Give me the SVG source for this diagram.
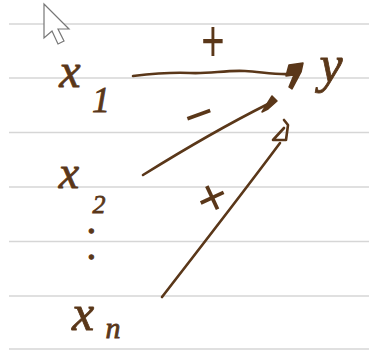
<svg xmlns="http://www.w3.org/2000/svg" width="369" height="350" viewBox="0 0 369 350">
<style>
.rule{stroke:#d6d6d6;stroke-width:1.5}
.ink{fill:#5a3719;stroke:#5a3719;stroke-width:0.8;font-family:"Liberation Serif","DejaVu Serif",serif;font-style:italic;text-anchor:middle}
.sign{fill:#5a3719;font-family:"Liberation Sans","DejaVu Sans",sans-serif;text-anchor:middle}
.wire{fill:none;stroke:#5a3719;stroke-width:2.6;stroke-linecap:round;stroke-linejoin:round}
.head{fill:#5a3719;stroke:#5a3719;stroke-width:1.5;stroke-linejoin:round}
</style>
<rect width="369" height="350" fill="#ffffff"/>
<g id="paper">
<line class="rule" x1="9" y1="24" x2="369" y2="24"/>
<line class="rule" x1="9" y1="78" x2="369" y2="78"/>
<line class="rule" x1="9" y1="132.5" x2="369" y2="132.5"/>
<line class="rule" x1="9" y1="187" x2="369" y2="187"/>
<line class="rule" x1="9" y1="241.5" x2="369" y2="241.5"/>
<line class="rule" x1="9" y1="296" x2="369" y2="296"/>
<line class="rule" x1="9" y1="349" x2="369" y2="349"/>
</g>
<g id="cursor">
<path d="M44,4 L44,38 L52,31 L58,44 L64,41 L58,29 L69,29 Z" fill="#ffffff" stroke="#777" stroke-width="1.2" stroke-linejoin="miter"/>
</g>
<g id="connectors">
<path class="wire" d="M133,76 C150,74 170,72 190,73 C210,74 225,70 245,71 C262,72 275,75 292,74"/>
<path class="head" d="M289,65 L303,63 L301,72 L292,89 L289,87 L294,75 L286,76 Z"/>
<path class="wire" d="M143,175 C180,152 220,128 268,104"/>
<path class="head" d="M262,112 L272,96 L277,101 L268,109 Z"/>
<path class="wire" d="M162,297 C200,248 245,190 280,143"/>
<path class="wire" d="M284,120 L288,125 L286,140 L273,140 L284,128"/>
</g>
<g id="labels">
<text class="sign" x="213" y="41" font-size="40" transform="scale(1,1.5)">+</text>
<text class="sign" x="200" y="131" font-size="50" transform="rotate(-20 200 118)">−</text>
<text class="sign" x="212" y="215" font-size="52" transform="rotate(-25 212 197)">+</text>
</g>
<g id="x1">
<text class="ink" x="70" y="87" font-size="48">x</text>
<text class="ink" x="101" y="112" font-size="36">1</text>
</g>
<g id="y">
<text class="ink" x="331" y="82" font-size="52">y</text>
</g>
<g id="x2">
<text class="ink" x="69" y="188" font-size="46">x</text>
<text class="ink" x="99" y="213" font-size="26">2</text>
</g>
<g id="dots">
<text class="ink" x="89" y="227" font-size="40" letter-spacing="16" style="text-anchor:start" transform="rotate(90 89 227)">..</text>
</g>
<g id="xn">
<text class="ink" x="83" y="330" font-size="50">x</text>
<text class="ink" x="113" y="338" font-size="30">n</text>
</g>
</svg>
